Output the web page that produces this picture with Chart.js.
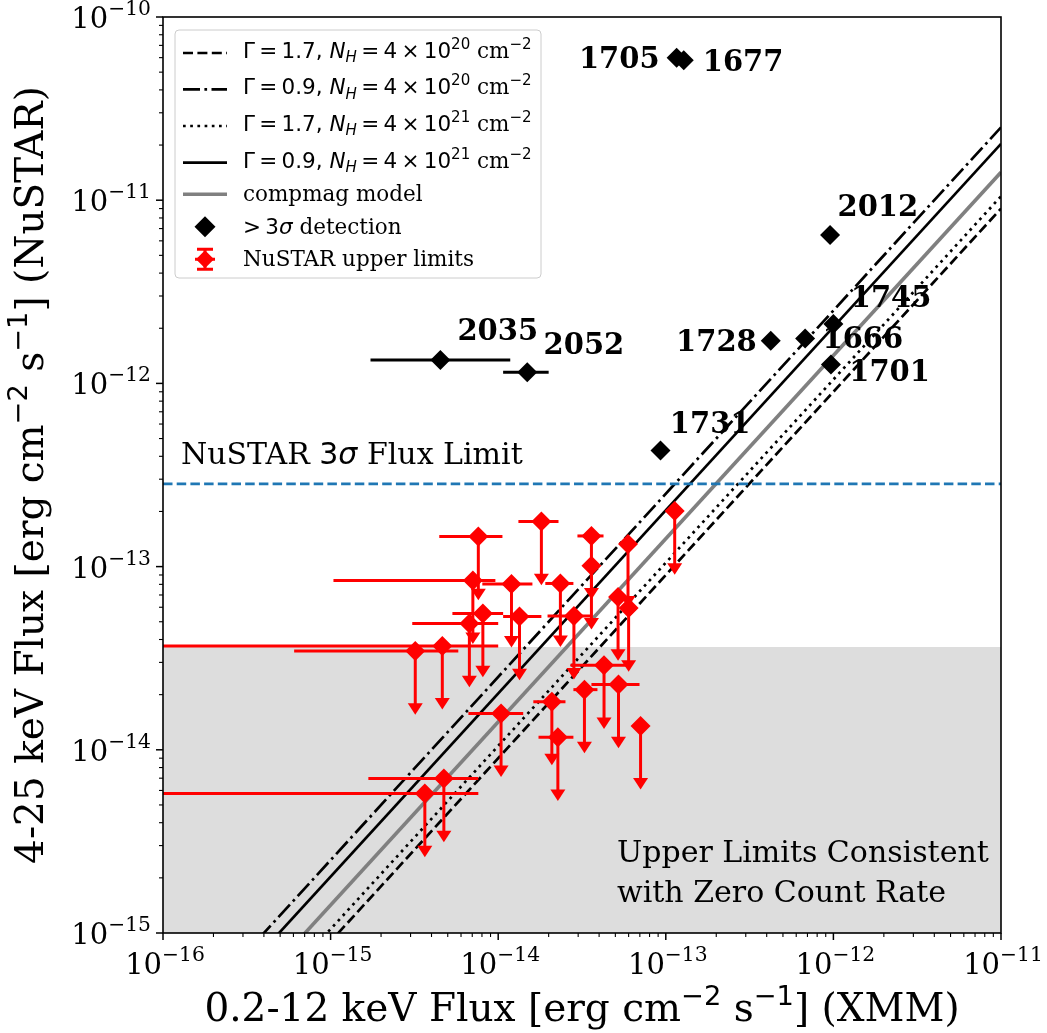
<!DOCTYPE html>
<html><head><meta charset="utf-8">
<script src="https://cdn.jsdelivr.net/npm/chart.js@4.4.0/dist/chart.umd.min.js"></script>
<style>html,body{margin:0;padding:0;background:#fff;}canvas{display:block;}</style>
</head><body>
<canvas id="c" width="1047" height="1033"></canvas>
<script>
// ---------------- DATA ----------------
// >3 sigma detections
const detNames = ['1705','1677','2012','1745','1666','1728','1701','1731','2035','2052'];
const detX   = [1.16e-13, 1.28e-13, 9.55e-13, 1.00e-12, 6.78e-13, 4.23e-13, 9.67e-13, 9.3e-14, 4.52e-15, 1.49e-14];
const detY   = [6.0e-11, 5.8e-11, 6.46e-12, 2.11e-12, 1.76e-12, 1.71e-12, 1.27e-12, 4.30e-13, 1.34e-12, 1.15e-12];
const detXLo = [null, null, null, null, null, null, null, null, 1.73e-15, 1.07e-14];
const detXHi = [null, null, null, null, null, null, null, null, 1.18e-14, 2.00e-14];

// NuSTAR upper limits
const ulX   = [7.61e-15, 7.06e-15, 1.20e-14, 2.35e-14, 1.81e-14, 1.13e-13, 3.60e-14, 3.60e-14, 5.95e-14, 5.19e-14,
               6.00e-14, 2.83e-14, 1.34e-14, 8.10e-15, 6.73e-15, 4.64e-15, 3.20e-15, 1.04e-14, 2.09e-14, 2.27e-14,
               3.27e-14, 5.22e-14, 4.28e-14, 7.07e-14, 4.74e-15, 3.65e-15];
const ulY   = [1.46e-13, 8.40e-14, 8.04e-14, 8.09e-14, 1.76e-13, 2.01e-13, 1.47e-13, 1.01e-13, 1.33e-13, 6.82e-14,
               5.94e-14, 5.38e-14, 5.34e-14, 5.54e-14, 4.89e-14, 3.69e-14, 3.46e-14, 1.58e-14, 1.83e-14, 1.17e-14,
               2.13e-14, 2.27e-14, 2.89e-14, 1.35e-14, 6.97e-15, 5.77e-15];
const ulXLo = [4.45e-15, 1.04e-15, 8.04e-15, 1.91e-14, 1.32e-14, null, 2.97e-14, null, null, null,
               null, 1.97e-14, 1.07e-14, 5.33e-15, 3.07e-15, 5e-17, 6.06e-16, 6.64e-15, 1.62e-14, 1.74e-14,
               2.81e-14, 3.60e-14, 2.70e-14, null, 1.68e-15, 5e-17];
const ulXHi = [1.06e-14, 9.62e-15, 1.60e-14, 2.81e-14, 2.29e-14, null, 4.25e-14, null, null, null,
               null, 3.56e-14, 1.81e-14, 1.07e-14, 1.00e-14, 1.00e-14, 5.78e-15, 1.41e-14, 2.52e-14, 2.81e-14,
               3.91e-14, 6.97e-14, 6.00e-14, null, 7.61e-15, 7.61e-15];
const ulArrowFrac = 0.5;   // arrow drawn down to this fraction of the limit

// model lines (evaluated at the x-axis ends)
const modelX      = [1e-16, 1e-11];
const g17nh20Y    = [9.0e-17, 9.0e-12];
const g09nh20Y    = [2.5e-16, 2.5e-11];
const g17nh21Y    = [1.05e-16, 1.05e-11];
const g09nh21Y    = [2.03e-16, 2.03e-11];
const compmagY    = [1.42e-16, 1.42e-11];

const fluxLimit      = 2.83e-13;   // NuSTAR 3 sigma flux limit
const zeroCountLimit = 3.64e-14;   // upper limits consistent with zero count rate

// axes
const xTickValues = [1e-16, 1e-15, 1e-14, 1e-13, 1e-12, 1e-11];
const xTickExps   = ['−16', '−15', '−14', '−13', '−12', '−11'];
const yTickValues = [1e-15, 1e-14, 1e-13, 1e-12, 1e-11, 1e-10];
const yTickExps   = ['−15', '−14', '−13', '−12', '−11', '−10'];

// ---------------- STYLE ----------------
const SERIF = '"DejaVu Serif"', SANS = '"DejaVu Sans"';
const LW = 2.7;
const dashStyles = {
  dashed: [10, 4.4], dashdot: [17, 4.4, 2.7, 4.4], dotted: [2.7, 4.5], solid: []
};
const labelOffsets = [[-17,10.5,'right'],[19,10.7,'left'],[7.4,-19,'left'],[17.3,-16.7,'left'],[17.4,10,'left'],
                      [-14,10.3,'right'],[18.3,16.7,'left'],[9.3,-17.4,'left'],[17,-20,'left'],[16.3,-18,'left']];

function fontFor(s, size) {
  const sz = s.pos ? size * 0.7 : size;
  return (s.it ? 'italic ' : '') + (s.b ? 'bold ' : '') + sz + 'px ' + (s.f === 'sans' ? SANS : SERIF);
}
function drawRich(ctx, segs, x, y, size, align, supRaise) {
  const rs = supRaise == null ? 0.42 : supRaise;
  let total = 0; const ws = [];
  segs.forEach(s => { ctx.font = fontFor(s, size); const w = ctx.measureText(s.t).width + (s.gap || 0); ws.push(w); total += w; });
  let cx = align === 'center' ? x - total / 2 : (align === 'right' ? x - total : x);
  ctx.textAlign = 'left'; ctx.textBaseline = 'alphabetic';
  segs.forEach((s, i) => {
    ctx.font = fontFor(s, size);
    let dy = 0;
    if (s.pos === 'sup') dy = -size * rs;
    if (s.pos === 'sub') dy = size * 0.2;
    ctx.fillText(s.t, cx + (s.pre || 0), y + dy);
    cx += ws[i];
  });
  return total;
}

const TS = '\u2009';
function nhText(g, e) {
  return [{t:'Γ', f:'sans'},{t:TS+'='+TS, f:'sans'},{t:g+', ', f:'sans'},{t:'N', f:'sans', it:1},{t:'H', f:'sans', it:1, pos:'sub'},
          {t:TS+'='+TS+'4'+TS+'×'+TS+'10', f:'sans'},{t:e, f:'sans', pos:'sup'},{t:' cm', f:'serif'},{t:'−2', f:'sans', pos:'sup'}];
}
const legendItems = [
  {kind:'line', dash:'dashed', color:'#000', w:LW, text:nhText('1.7','20'), dy:5},
  {kind:'line', dash:'dashdot', color:'#000', w:LW, text:nhText('0.9','20'), dy:5},
  {kind:'line', dash:'dotted', color:'#000', w:LW, text:nhText('1.7','21'), dy:5},
  {kind:'line', dash:'solid', color:'#000', w:LW, text:nhText('0.9','21'), dy:5},
  {kind:'line', dash:'solid', color:'#808080', w:3.6, text:[{t:'compmag model', f:'serif'}], dy:7},
  {kind:'det', text:[{t:'>'+TS+'3', f:'sans'},{t:'σ', f:'sans', it:1},{t:' detection', f:'serif'}], dy:7},
  {kind:'ul', text:[{t:'NuSTAR upper limits', f:'serif'}], dy:7}
];

function diamond(ctx, x, y, r, color) {
  ctx.fillStyle = color; ctx.beginPath();
  ctx.moveTo(x - r, y); ctx.lineTo(x, y - r); ctx.lineTo(x + r, y); ctx.lineTo(x, y + r); ctx.closePath(); ctx.fill();
}

const overlay = {
  id: 'overlay',
  beforeDatasetsDraw(chart) {
    const {ctx, chartArea: ca, scales: {x: xs, y: ys}} = chart;
    ctx.save();
    const yTop = ys.getPixelForValue(zeroCountLimit);
    ctx.fillStyle = '#dddddd';
    ctx.fillRect(ca.left, yTop, ca.right - ca.left, ca.bottom - yTop);
    ctx.fillStyle = '#000';
    drawRich(ctx, [{t:'Upper Limits Consistent', f:'serif'}], ca.left + 454, ca.bottom - 71, 30, 'left');
    drawRich(ctx, [{t:'with Zero Count Rate', f:'serif'}], ca.left + 454, ca.bottom - 31, 30, 'left');
    ctx.restore();
  },
  beforeDatasetDraw(chart, args) {
    const {ctx, chartArea: ca, scales: {x: xs, y: ys}} = chart;
    const lbl = chart.data.datasets[args.index].label;
    if (lbl !== 'ul' && lbl !== 'det') return;
    ctx.save();
    ctx.beginPath(); ctx.rect(ca.left, ca.top, ca.right - ca.left, ca.bottom - ca.top); ctx.clip();
    ctx.lineWidth = 3; ctx.lineCap = 'butt';
    if (lbl === 'ul') {
      ctx.strokeStyle = '#ff0000'; ctx.fillStyle = '#ff0000';
      ulX.forEach((xv, i) => {
        const px = xs.getPixelForValue(xv), py = ys.getPixelForValue(ulY[i]);
        if (ulXLo[i] != null) {
          ctx.beginPath(); ctx.moveTo(xs.getPixelForValue(ulXLo[i]), py); ctx.lineTo(xs.getPixelForValue(ulXHi[i]), py); ctx.stroke();
        }
        const pe = ys.getPixelForValue(ulY[i] * ulArrowFrac);
        ctx.beginPath(); ctx.moveTo(px, py); ctx.lineTo(px, pe); ctx.stroke();
        ctx.beginPath(); ctx.moveTo(px - 7.5, pe - 3); ctx.lineTo(px + 7.5, pe - 3); ctx.lineTo(px, pe + 8.5); ctx.closePath(); ctx.fill();
      });
    } else {
      ctx.strokeStyle = '#000';
      detX.forEach((xv, i) => {
        if (detXLo[i] == null) return;
        const py = ys.getPixelForValue(detY[i]);
        ctx.beginPath(); ctx.moveTo(xs.getPixelForValue(detXLo[i]), py); ctx.lineTo(xs.getPixelForValue(detXHi[i]), py); ctx.stroke();
      });
    }
    ctx.restore();
  },
  afterDatasetsDraw(chart) {
    const {ctx, chartArea: ca, scales: {x: xs, y: ys}} = chart;
    ctx.save();
    // flux limit label
    ctx.fillStyle = '#000';
    drawRich(ctx, [{t:'NuSTAR ', f:'serif'},{t:'3', f:'sans'},{t:'σ', f:'sans', it:1},{t:' Flux Limit', f:'serif'}],
             ca.left + 18, ys.getPixelForValue(fluxLimit) - 20, 30, 'left');
    // detection labels
    detNames.forEach((n, i) => {
      const px = xs.getPixelForValue(detX[i]), py = ys.getPixelForValue(detY[i]);
      const o = labelOffsets[i];
      drawRich(ctx, [{t:n, f:'serif', b:1}], px + o[0], py + o[1], 29, o[2]);
    });
    // frame
    ctx.strokeStyle = '#000'; ctx.lineWidth = 1.6;
    ctx.strokeRect(ca.left, ca.top, ca.right - ca.left, ca.bottom - ca.top);
    // ticks
    const tick = (x1, y1, x2, y2, w) => { ctx.lineWidth = w; ctx.beginPath(); ctx.moveTo(x1, y1); ctx.lineTo(x2, y2); ctx.stroke(); };
    xTickValues.forEach((v, i) => {
      const p = xs.getPixelForValue(v); tick(p, ca.bottom, p, ca.bottom + 7, 1.5);
      if (i < xTickValues.length - 1) for (let m = 2; m <= 9; m++) { const q = xs.getPixelForValue(m * v); tick(q, ca.bottom, q, ca.bottom + 4, 1.1); }
      drawRich(ctx, [{t:'10', f:'serif'},{t:xTickExps[i], f:'serif', pos:'sup'}], p + 2, ca.bottom + 41, 29, 'center', 0.45);
    });
    yTickValues.forEach((v, i) => {
      const p = ys.getPixelForValue(v); tick(ca.left, p, ca.left - 7, p, 1.5);
      if (i < yTickValues.length - 1) for (let m = 2; m <= 9; m++) { const q = ys.getPixelForValue(m * v); tick(ca.left, q, ca.left - 4, q, 1.1); }
      drawRich(ctx, [{t:'10', f:'serif'},{t:yTickExps[i], f:'serif', pos:'sup'}], ca.left - 12, p + 11, 29, 'right', 0.45);
    });
    // axis titles
    const fluxUnits = [{t:' Flux [erg cm', f:'serif'},{t:'−2', f:'sans', pos:'sup'},{t:' s', f:'serif'},{t:'−1', f:'sans', pos:'sup'},{t:'] ', f:'serif'}];
    drawRich(ctx, [{t:'0.2-12 keV', f:'serif'}, ...fluxUnits, {t:'(XMM)', f:'serif'}], (ca.left + ca.right) / 2, 1021, 39, 'center', 0.4);
    ctx.save();
    ctx.translate(43, (ca.top + ca.bottom) / 2); ctx.rotate(-Math.PI / 2);
    drawRich(ctx, [{t:'4-25 keV', f:'serif'}, ...fluxUnits, {t:'(NuSTAR)', f:'serif'}], 0, 0, 39, 'center', 0.4);
    ctx.restore();
    // legend
    const L = {x: ca.left + 12, y: ca.top + 13, w: 366, h: 248};
    ctx.beginPath();
    if (ctx.roundRect) ctx.roundRect(L.x, L.y, L.w, L.h, 4); else ctx.rect(L.x, L.y, L.w, L.h);
    ctx.fillStyle = 'rgba(255,255,255,0.8)'; ctx.fill();
    ctx.strokeStyle = '#cccccc'; ctx.lineWidth = 1; ctx.stroke();
    const rowsY = [53, 89.3, 126, 162.7, 194.3, 226.7, 259.3];
    legendItems.forEach((it, i) => {
      const cy = rowsY[i] - 17 + ca.top;
      const hx0 = L.x + 8, hx1 = L.x + 52, hc = (hx0 + hx1) / 2;
      if (it.kind === 'line') {
        ctx.save(); ctx.strokeStyle = it.color; ctx.lineWidth = it.w; ctx.lineCap = 'butt';
        ctx.setLineDash(dashStyles[it.dash]);
        ctx.beginPath(); ctx.moveTo(hx0, cy); ctx.lineTo(hx1, cy); ctx.stroke(); ctx.restore();
      } else if (it.kind === 'det') {
        diamond(ctx, hc, cy, 10.5, '#000');
      } else {
        ctx.save(); ctx.strokeStyle = '#ff0000'; ctx.lineWidth = 3;
        ctx.beginPath(); ctx.moveTo(hc, cy - 10); ctx.lineTo(hc, cy + 10);
        ctx.moveTo(hc - 8, cy - 10); ctx.lineTo(hc + 8, cy - 10);
        ctx.moveTo(hc - 8, cy + 10); ctx.lineTo(hc + 8, cy + 10);
        ctx.moveTo(hc - 10, cy); ctx.lineTo(hc + 10, cy); ctx.stroke(); ctx.restore();
        diamond(ctx, hc, cy, 9, '#ff0000');
      }
      ctx.fillStyle = '#000';
      drawRich(ctx, it.text, L.x + 68, cy + it.dy, 21.5, 'left', 0.42);
    });
    ctx.restore();
  }
};

const lineDs = (label, ys, color, w, dash, order) => ({
  label, data: modelX.map((x, i) => ({x, y: ys[i]})), showLine: true, pointRadius: 0,
  borderColor: color, borderWidth: w, borderDash: dash, borderCapStyle: 'butt', fill: false, order
});

new Chart(document.getElementById('c'), {
  type: 'scatter',
  data: { datasets: [
    lineDs('g17nh20', g17nh20Y, '#000', LW, dashStyles.dashed, 20),
    lineDs('g09nh20', g09nh20Y, '#000', LW, dashStyles.dashdot, 19),
    lineDs('g17nh21', g17nh21Y, '#000', LW, dashStyles.dotted, 18),
    lineDs('g09nh21', g09nh21Y, '#000', LW, [], 17),
    lineDs('compmag', compmagY, '#808080', 3.6, [], 16),
    {label: 'fluxlimit', data: modelX.map(x => ({x, y: fluxLimit})), showLine: true, pointRadius: 0,
     borderColor: '#1f77b4', borderWidth: 2.6, borderDash: [9.5, 4.2], borderCapStyle: 'butt', order: 15},
    {label: 'ul', data: ulX.map((x, i) => ({x, y: ulY[i]})), pointStyle: 'rectRot', pointRadius: 10,
     pointBackgroundColor: '#ff0000', pointBorderWidth: 0, backgroundColor: '#ff0000', borderColor: '#ff0000', order: 5},
    {label: 'det', data: detX.map((x, i) => ({x, y: detY[i]})), pointStyle: 'rectRot', pointRadius: 10,
     pointBackgroundColor: '#000', pointBorderWidth: 0, backgroundColor: '#000', borderColor: '#000', order: 1}
  ]},
  options: {
    responsive: false, animation: false, events: [],
    layout: {padding: {left: 163, right: 46, top: 17, bottom: 100}},
    scales: {
      x: {type: 'logarithmic', min: 1e-16, max: 1e-11, display: false},
      y: {type: 'logarithmic', min: 1e-15, max: 1e-10, display: false}
    },
    plugins: {legend: {display: false}, tooltip: {enabled: false}}
  },
  plugins: [overlay]
});
</script>
</body></html>
